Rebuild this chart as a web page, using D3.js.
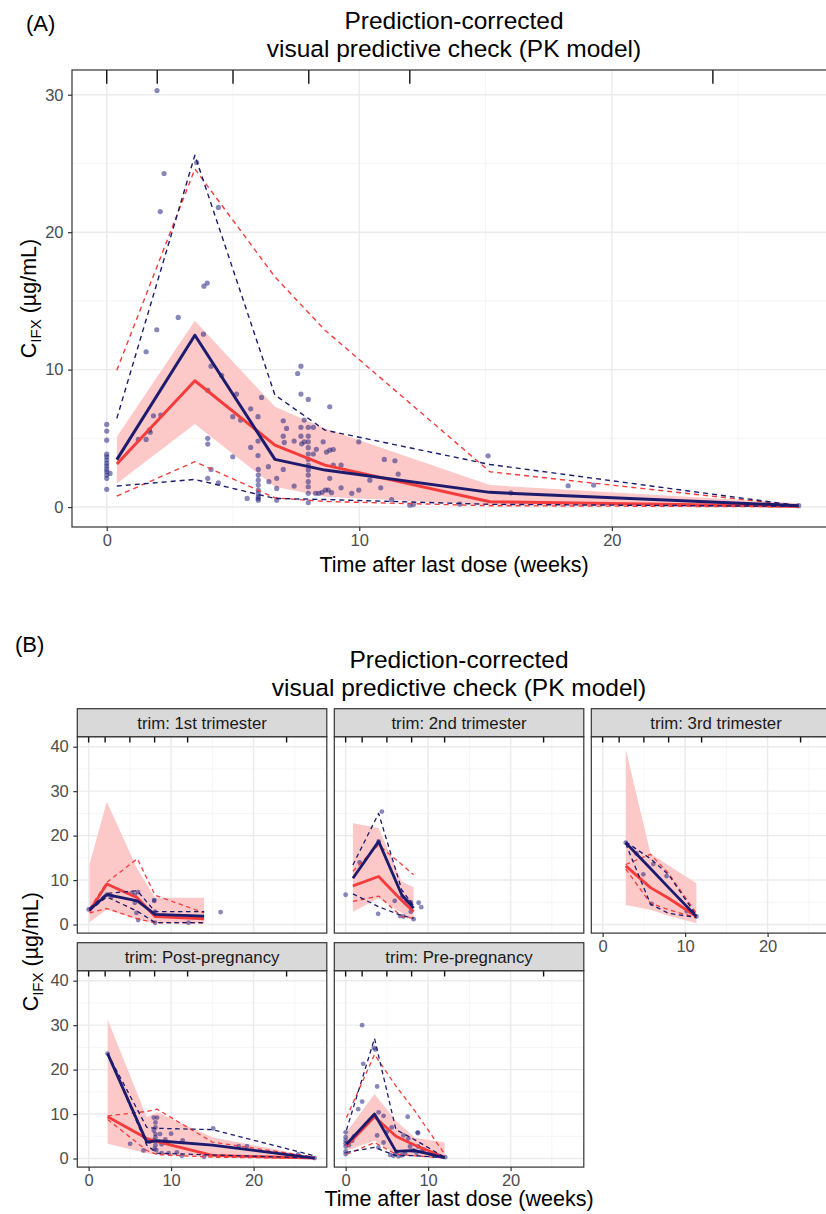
<!DOCTYPE html>
<html><head><meta charset="utf-8">
<script src="https://cdn.jsdelivr.net/npm/d3@7"></script>
<style>body{margin:0;background:#fff} text{font-family:"Liberation Sans",Arial,Helvetica,sans-serif}</style>
</head><body><svg id="c" width="826" height="1214" xmlns="http://www.w3.org/2000/svg"></svg>
<script>
// ---------- shared ----------
const binEdges = [0, 2, 5, 8, 12, 24];
const xTicks = [0, 10, 20];
const xMinor = [5, 15, 25];
const aYTicks = [0, 10, 20, 30];
const aYMinor = [5, 15, 25];
const bYTicks = [0, 10, 20, 30, 40];
const bYMinor = [5, 15, 25, 35];
const facetNames = ["trim: 1st trimester", "trim: 2nd trimester", "trim: 3rd trimester", "trim: Post-pregnancy", "trim: Pre-pregnancy"];

// ---------- panel A ----------
const aX       = [0.4, 3.49, 6.66, 8.64, 15.17, 27.4];
const aObsMed  = [3.45, 12.5, 3.47, 2.69, 1.07, 0.1];
const aObsLo   = [1.53, 2.01, 0.63, 0.55, 0.2, 0.05];
const aObsHi   = [6.45, 25.6, 8.15, 5.6, 3.1, 0.1];
const aSimMed  = [3.13, 9.19, 4.51, 3.05, 0.39, 0.05];
const aSimLo   = [0.8, 3.3, 0.67, 0.41, 0.1, 0.02];
const aSimHi   = [9.96, 24.6, 16.75, 12.87, 2.57, 0.1];
const aBandLo  = [1.72, 6.04, 1.48, 0.75, 0.15, 0.03];
const aBandHi  = [5.11, 13.55, 7.3, 5.72, 1.6, 0.28];
const aPtX = [0,0,0,0,0,0,0,0,0,0,0,0,0,0.13,
  1.99,2.27,2.12,3.56,4.42,3.85,3.98,2.83,1.98,3.83,1.56,4.13,4.55,4.0,5.14,6.13,1.85,2.14,1.69,1.72,1.25,1.56,4.99,5.3,5.7,5.99,4.0,4.0,5.7,4.99,5.99,5.99,4.13,4.0,4.42,
  6.0,6.0,6.0,6.0,6.0,6.0,6.0,6.0,6.0,5.56,
  6.4,6.42,6.73,6.73,6.73,6.99,7.12,6.99,7.03,6.99,7.42,7.42,7.56,7.69,7.69,7.98,7.82,
  7.98,7.98,7.98,7.98,7.98,7.98,7.98,7.98,7.98,7.98,7.98,7.98,7.98,
  7.69,7.69,7.72,7.82,8.18,8.18,8.27,8.4,8.53,8.66,8.57,8.7,8.83,8.97,8.83,8.3,8.83,8.77,8.9,8.97,9.28,9.28,9.7,9.98,9.98,10.42,10.85,10.99,11.41,11.54,11.28,12.0,12.14,13.98,15.1,16.0,18.27,19.28,27.4];
const aPtY = [6.01,5.53,4.87,3.85,3.66,3.42,3.18,2.98,2.76,2.57,2.33,2.09,1.29,2.45,
  30.3,24.27,21.5,25.07,21.8,16.07,16.3,13.8,12.9,12.58,11.3,10.25,9.58,8.5,8.22,7.98,6.64,6.69,5.6,5.45,4.92,4.92,6.58,6.33,7.15,6.58,5.0,4.58,4.34,3.66,3.75,4.8,2.74,2.09,1.77,
  2.74,2.33,1.96,1.6,1.24,1.0,0.75,0.63,0.5,0.63,
  2.94,1.85,2.09,1.36,0.5,6.28,5.72,5.16,4.7,2.74,4.8,1.53,9.72,10.25,8.22,7.83,6.33,
  5.8,5.16,4.75,4.32,3.86,3.47,3.06,2.7,2.33,1.85,1.48,1.0,0.33,
  5.8,5.16,4.6,4.75,5.8,3.86,1.0,1.0,1.07,1.24,4.75,4.0,4.14,4.19,7.3,4.2,2.09,1.24,1.05,3.06,3.06,1.4,1.0,4.75,1.24,1.96,1.4,3.47,3.37,2.4,0.55,0.14,0.18,0.22,3.73,1.04,1.55,1.6,0.1];

// ---------- panel B facets ----------
// 1st trimester
const t1X      = [0.1, 2.2, 5.9, 8.05, 14.0];
const t1ObsMed = [3.3, 6.7, 5.3, 2.3, 1.9];
const t1ObsLo  = [3.1, 6.2, 3.0, 0.45, 0.4];
const t1ObsHi  = [3.6, 7.0, 7.6, 2.9, 2.9];
const t1SimMed = [3.0, 9.1, 6.0, 1.8, 1.3];
const t1SimLo  = [2.6, 3.6, 1.3, 0.4, 0.4];
const t1SimHi  = [3.5, 9.5, 14.8, 6.6, 2.6];
const t1BandLo = [0.5, 3.4, 1.2, 0.4, 0.4];
const t1BandHi = [13.5, 27.6, 12.5, 6.0, 6.0];
const t1PtX = [0, 2.2, 2.8, 5.2, 5.6, 6.0, 5.6, 5.8, 6.0, 7.95, 7.95, 8.05, 8.05, 12.1, 16.0];
const t1PtY = [3.4, 6.7, 6.3, 7.05, 6.7, 7.3, 4.9, 2.6, 1.0, 5.5, 5.3, 2.9, 0.4, 0.4, 2.8];
// 2nd trimester
const t2X      = [0.88, 4.0, 6.8, 8.24];
const t2ObsMed = [10.4, 18.7, 6.7, 3.7];
const t2ObsLo  = [6.9, 4.0, 2.0, 1.4];
const t2ObsHi  = [13.4, 25.0, 7.8, 4.2];
const t2SimMed = [8.7, 10.8, 5.4, 2.9];
const t2SimLo  = [5.2, 6.4, 1.8, 1.4];
const t2SimHi  = [12.0, 17.9, 13.5, 11.2];
const t2BandLo = [2.9, 5.9, 2.6, 1.05];
const t2BandHi = [22.8, 21.7, 9.7, 8.4];
const t2PtX = [0, 1.7, 4.0, 4.4, 3.94, 5.95, 6.8, 7.3, 7.7, 7.9, 6.6, 7.0, 7.9, 8.24, 8.85, 9.17];
const t2PtY = [6.7, 14.0, 18.7, 25.4, 2.4, 5.3, 6.0, 5.2, 5.1, 5.0, 1.9, 1.8, 2.9, 1.2, 4.9, 3.9];
// 3rd trimester
const t3X      = [2.8, 5.8, 8.0, 11.37];
const t3ObsMed = [18.4, 12.6, 8.3, 1.8];
const t3ObsLo  = [18.2, 4.6, 2.5, 1.6];
const t3ObsHi  = [18.6, 14.8, 11.2, 2.0];
const t3SimMed = [13.2, 8.3, 5.9, 1.8];
const t3SimLo  = [12.5, 4.8, 3.3, 1.6];
const t3SimHi  = [13.5, 15.8, 11.5, 2.5];
const t3BandLo = [4.4, 3.3, 2.0, 0.3];
const t3BandHi = [39.4, 16.0, 13.3, 9.3];
const t3PtX = [2.8, 4.1, 6.14, 4.93, 7.75, 5.94, 11.37, 10.2];
const t3PtY = [18.4, 16.0, 13.6, 11.3, 10.9, 4.65, 1.8, 3.0];
// Post-pregnancy
const t4X      = [2.3, 7.05, 8.3, 15.0, 27.4];
const t4ObsMed = [23.6, 3.7, 4.0, 3.0, 0.1];
const t4ObsLo  = [23.6, 3.0, 1.2, 0.8, 0.1];
const t4ObsHi  = [23.6, 7.0, 6.8, 6.5, 0.6];
const t4SimMed = [9.4, 4.5, 3.8, 0.7, 0.1];
const t4SimLo  = [8.8, 1.8, 0.9, 0.3, 0.05];
const t4SimHi  = [9.6, 10.6, 11.1, 3.7, 0.35];
const t4BandLo = [3.3, 1.2, 0.9, 0.3, 0.05];
const t4BandHi = [31.3, 9.3, 10.4, 4.8, 0.3];
const t4PtX = [2.3, 5.03, 6.65, 7.9, 8.3, 8.1, 8.1, 7.9, 8.1, 8.1, 7.9, 8.1, 8.0, 8.2, 8.65, 8.85, 10.0, 8.85, 9.7, 10.7, 11.3, 11.4, 14.0, 15.1, 18.2, 19.2, 25.4, 27.4, 7.4, 9.3];
const t4PtY = [23.6, 3.3, 1.8, 9.2, 9.2, 8.1, 7.0, 6.3, 5.5, 4.8, 4.1, 3.0, 2.2, 1.9, 5.5, 3.2, 5.6, 1.2, 1.2, 1.4, 0.6, 4.1, 0.4, 6.8, 2.8, 2.8, 0.9, 0.1, 3.8, 4.3];
// Pre-pregnancy
const t5X      = [0.1, 3.5, 6.1, 8.4, 12.0];
const t5ObsMed = [3.2, 10.0, 1.6, 1.8, 0.2];
const t5ObsLo  = [1.4, 2.5, 0.65, 0.65, 0.15];
const t5ObsHi  = [6.4, 27.0, 6.5, 4.2, 0.3];
const t5SimMed = [2.8, 9.4, 5.0, 3.0, 0.3];
const t5SimLo  = [0.9, 3.6, 1.0, 0.6, 0.15];
const t5SimHi  = [9.2, 23.4, 16.3, 10.7, 1.0];
const t5BandLo = [1.8, 4.0, 1.0, 0.6, 0.15];
const t5BandHi = [5.9, 14.5, 8.5, 4.7, 3.6];
const t5PtX = [0, 0, 0, 0, 0, 0, 0, 1.0, 0.8, 0.4, 2.0, 3.42, 3.6, 2.13, 3.82, 2.0, 1.52, 4.0, 4.6, 7.52, 5.6, 3.82, 8.73, 7.0, 7.6, 3.98, 4.6, 5.4, 5.8, 6.0, 6.4, 6.8, 7.8, 8.2, 8.6, 8.8, 9.2, 10.26, 10.7, 12.07, 8.77, 6.2, 7.2, 9.5, 5.0];
const t5PtY = [5.9, 4.8, 4.0, 3.4, 2.7, 1.6, 1.0, 5.0, 4.0, 3.0, 30.0, 24.9, 24.5, 21.3, 16.2, 12.8, 11.1, 10.4, 9.6, 9.4, 7.0, 5.2, 5.9, 5.2, 4.5, 2.5, 3.6, 0.8, 0.6, 1.0, 0.5, 0.7, 2.7, 1.8, 1.3, 2.7, 1.6, 1.1, 0.7, 0.3, 5.7, 1.5, 1.2, 2.0, 6.0];

// ---------- drawing ----------
const svg = d3.select("#c");
svg.append("rect").attr("width", 826).attr("height", 1214).attr("fill", "#fff");
const defs = svg.append("defs");
const BLUE = "#1c1b6e", RED = "#f43c3c", RIB = "#fcc8c8", PT = "#25257f";
const xDomain = [-1.375, 28.875];

function drawPanel(o) {
  const x = d3.scaleLinear().domain(xDomain).range([o.left, o.left + o.w]);
  const y = d3.scaleLinear().domain(o.yDomain).range([o.top + o.h, o.top]);
  const g = svg.append("g");
  g.append("rect").attr("x", o.left).attr("y", o.top).attr("width", o.w).attr("height", o.h).attr("fill", "#fff");
  // grid
  xMinor.forEach(v => g.append("line").attr("x1", x(v)).attr("x2", x(v)).attr("y1", o.top).attr("y2", o.top + o.h).attr("stroke", "#f2f2f2").attr("stroke-width", 0.8));
  o.yMinor.forEach(v => g.append("line").attr("y1", y(v)).attr("y2", y(v)).attr("x1", o.left).attr("x2", o.left + o.w).attr("stroke", "#f2f2f2").attr("stroke-width", 0.8));
  xTicks.forEach(v => g.append("line").attr("x1", x(v)).attr("x2", x(v)).attr("y1", o.top).attr("y2", o.top + o.h).attr("stroke", "#ebebeb").attr("stroke-width", 1.4));
  o.yTicks.forEach(v => g.append("line").attr("y1", y(v)).attr("y2", y(v)).attr("x1", o.left).attr("x2", o.left + o.w).attr("stroke", "#ebebeb").attr("stroke-width", 1.4));
  const cid = "clip" + o.id;
  defs.append("clipPath").attr("id", cid).append("rect").attr("x", o.left).attr("y", o.top).attr("width", o.w).attr("height", o.h);
  const pg = g.append("g").attr("clip-path", `url(#${cid})`);
  const d = o.d;
  const idx = d3.range(d.x.length);
  pg.append("path").datum(idx)
    .attr("d", d3.area().x(i => x(d.x[i])).y0(i => y(d.bandLo[i])).y1(i => y(d.bandHi[i])))
    .attr("fill", RIB);
  pg.selectAll("circle.pt").data(d3.range(o.px.length)).join("circle").attr("class", "pt")
    .attr("cx", i => x(o.px[i])).attr("cy", i => y(o.py[i])).attr("r", o.r)
    .attr("fill", PT).attr("fill-opacity", 0.55);
  const line = key => d3.line().x(i => x(d.x[i])).y(i => y(d[key][i]))(idx);
  const specs = [["simLo", RED, true], ["simHi", RED, true], ["simMed", RED, false],
                 ["obsLo", BLUE, true], ["obsHi", BLUE, true], ["obsMed", BLUE, false]];
  specs.forEach(([k, c, dash]) => {
    pg.append("path").attr("d", line(k)).attr("fill", "none").attr("stroke", c)
      .attr("stroke-width", dash ? o.dw : o.sw).attr("stroke-linejoin", "round")
      .attr("stroke-dasharray", dash ? o.da : null);
  });
  binEdges.forEach(v => pg.append("line").attr("x1", x(v)).attr("x2", x(v)).attr("y1", o.top).attr("y2", o.top + o.h * 0.03)
    .attr("stroke", "#111").attr("stroke-width", 1.4));
  g.append("rect").attr("x", o.left).attr("y", o.top).attr("width", o.w).attr("height", o.h)
    .attr("fill", "none").attr("stroke", "#333").attr("stroke-width", 1.2);
  const styleAxis = sel => {
    sel.select(".domain").remove();
    sel.selectAll(".tick line").attr("stroke", "#333").attr("stroke-width", 1.2);
    sel.selectAll(".tick text").attr("fill", "#4d4d4d").attr("font-size", 16.5)
      .attr("font-family", '"Liberation Sans",Arial,sans-serif');
  };
  if (o.yAxis) {
    g.append("g").attr("transform", `translate(${o.left},0)`)
      .call(d3.axisLeft(y).tickValues(o.yTicks).tickSize(4).tickPadding(4.5)).call(styleAxis);
  }
  if (o.xAxis) {
    g.append("g").attr("transform", `translate(0,${o.top + o.h})`)
      .call(d3.axisBottom(x).tickValues(xTicks).tickSize(4).tickPadding(3.6)).call(styleAxis);
  }
  if (o.strip) {
    g.append("rect").attr("x", o.left).attr("y", o.top - 28).attr("width", o.w).attr("height", 28)
      .attr("fill", "#d9d9d9").attr("stroke", "#333").attr("stroke-width", 1.2);
    g.append("text").attr("x", o.left + o.w / 2).attr("y", o.top - 7.5).attr("text-anchor", "middle")
      .attr("font-size", 16.8).attr("fill", "#1a1a1a").text(o.strip);
  }
}

function pack(x, obsMed, obsLo, obsHi, simMed, simLo, simHi, bandLo, bandHi) {
  return {x, obsMed, obsLo, obsHi, simMed, simLo, simHi, bandLo, bandHi};
}

// Panel A
drawPanel({id: "A", left: 72, top: 70, w: 764, h: 457, yDomain: [-1.45, 31.8], yTicks: aYTicks, yMinor: aYMinor,
  d: pack(aX, aObsMed, aObsLo, aObsHi, aSimMed, aSimLo, aSimHi, aBandLo, aBandHi),
  px: aPtX, py: aPtY, r: 2.6, sw: 3, dw: 1.4, da: "5,4", yAxis: true, xAxis: true});

// Panel B facets
const colL = [77.3, 334.3, 591.3], W = 249.5;
const rowT = [736.7, 970.7], H = 196.4;
const bYDom = [-1.93, 42.25];
const facets = [
  [pack(t1X, t1ObsMed, t1ObsLo, t1ObsHi, t1SimMed, t1SimLo, t1SimHi, t1BandLo, t1BandHi), t1PtX, t1PtY],
  [pack(t2X, t2ObsMed, t2ObsLo, t2ObsHi, t2SimMed, t2SimLo, t2SimHi, t2BandLo, t2BandHi), t2PtX, t2PtY],
  [pack(t3X, t3ObsMed, t3ObsLo, t3ObsHi, t3SimMed, t3SimLo, t3SimHi, t3BandLo, t3BandHi), t3PtX, t3PtY],
  [pack(t4X, t4ObsMed, t4ObsLo, t4ObsHi, t4SimMed, t4SimLo, t4SimHi, t4BandLo, t4BandHi), t4PtX, t4PtY],
  [pack(t5X, t5ObsMed, t5ObsLo, t5ObsHi, t5SimMed, t5SimLo, t5SimHi, t5BandLo, t5BandHi), t5PtX, t5PtY]
];
facets.forEach((f, k) => {
  const col = k % 3, row = Math.floor(k / 3);
  drawPanel({id: "B" + k, left: colL[col], top: rowT[row], w: W, h: H, yDomain: bYDom, yTicks: bYTicks, yMinor: bYMinor,
    d: f[0], px: f[1], py: f[2], r: 2.4, sw: 2.8, dw: 1.3, da: "4.5,3.5",
    yAxis: col === 0, xAxis: row === 1 || k === 2, strip: facetNames[k]});
});

// ---------- text ----------
function txt(x, y, s, size, anchor, fill) {
  return svg.append("text").attr("x", x).attr("y", y).attr("font-size", size)
    .attr("text-anchor", anchor || "start").attr("fill", fill || "#000").text(s);
}
txt(26, 31, "(A)", 22);
txt(454, 29, "Prediction-corrected", 24.5, "middle");
txt(454, 57, "visual predictive check (PK model)", 24.5, "middle");
txt(454, 572, "Time after last dose (weeks)", 21.5, "middle");
txt(15, 652, "(B)", 22);
txt(459, 668, "Prediction-corrected", 24.5, "middle");
txt(459, 696, "visual predictive check (PK model)", 24.5, "middle");
txt(459, 1206, "Time after last dose (weeks)", 21.5, "middle");

function yTitle(cx, cy) {
  const t = svg.append("text").attr("transform", `translate(${cx},${cy}) rotate(-90)`)
    .attr("text-anchor", "middle").attr("font-size", 21.5).attr("fill", "#000");
  t.append("tspan").text("C");
  t.append("tspan").attr("font-size", 15).attr("dy", 5).text("IFX");
  t.append("tspan").attr("dy", -5).text(" (µg/mL)");
}
yTitle(36, 298.5);
yTitle(38, 951.7);
</script>
</body></html>
